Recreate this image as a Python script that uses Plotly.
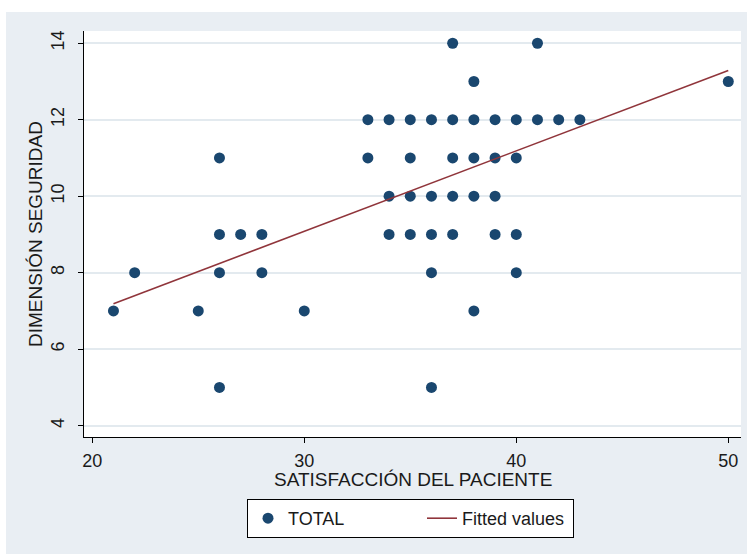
import plotly.graph_objects as go

# Patient satisfaction score vs. safety dimension score
sat = [37, 41,
       38, 50,
       33, 34, 35, 36, 37, 38, 39, 40, 41, 42, 43,
       26, 33, 35, 37, 38, 39, 40,
       34, 35, 36, 37, 38, 39,
       26, 27, 28, 34, 35, 36, 37, 39, 40,
       22, 26, 28, 36, 40,
       21, 25, 30, 38,
       26, 36]
seg = [14, 14,
       13, 13,
       12, 12, 12, 12, 12, 12, 12, 12, 12, 12, 12,
       11, 11, 11, 11, 11, 11, 11,
       10, 10, 10, 10, 10, 10,
       9, 9, 9, 9, 9, 9, 9, 9, 9,
       8, 8, 8, 8, 8,
       7, 7, 7, 7,
       5, 5]

# Linear fit endpoints (fitted values)
fit_x = [21, 50]
fit_y = [7.19, 13.29]

x_ticks = [20, 30, 40, 50]
y_ticks = [4, 6, 8, 10, 12, 14]

NAVY = "#1a476f"
MAROON = "#90353b"
BG = "#e9eef3"
GRID = "#e3eaef"
FONT = "Liberation Sans, Arial, sans-serif"
TXT = "#1a1a1a"

fig = go.Figure()
fig.add_trace(go.Scatter(
    x=sat, y=seg, mode="markers", name="TOTAL",
    marker=dict(color=NAVY, size=11, line=dict(width=0)),
    legendwidth=129,
))
fig.add_trace(go.Scatter(
    x=fit_x, y=fit_y, mode="lines", name="Fitted values",
    line=dict(color=MAROON, width=1.6),
    legendwidth=106,
))

W, H = 747, 554
L, R, T, B = 84, 6, 31, 117
PW, PH = W - L - R, H - T - B

fig.update_layout(
    width=W, height=H,
    margin=dict(l=L, r=R, t=T, b=B, pad=0),
    paper_bgcolor=BG,
    plot_bgcolor="white",
    font=dict(family=FONT, size=18, color=TXT),
    showlegend=True,
    legend=dict(
        orientation="h",
        x=(410.5 - L) / PW, xanchor="center",
        y=-(499 - (H - B)) / PH, yanchor="top",
        bgcolor="white", bordercolor="black", borderwidth=1,
        font=dict(size=18, family=FONT, color=TXT),
        itemwidth=30,
    ),
    xaxis=dict(
        range=[19.61, 50.6],
        tickvals=x_ticks,
        showgrid=False, zeroline=False,
        showline=True, linecolor="black", linewidth=1.2,
        ticks="outside", ticklen=5, tickcolor="black", tickwidth=1.2,
        tickfont=dict(size=18),
        ticklabelstandoff=2,
    ),
    yaxis=dict(
        range=[3.705, 14.32],
        tickvals=y_ticks,
        tickangle=-90,
        showgrid=True, gridcolor=GRID, gridwidth=1.5,
        zeroline=False,
        showline=True, linecolor="black", linewidth=1.2,
        ticks="outside", ticklen=5, tickcolor="black", tickwidth=1.2,
        tickfont=dict(size=18),
        ticklabelstandoff=7,
        title=dict(text="DIMENSIÓN SEGURIDAD", font=dict(size=19), standoff=0),
    ),
)

# x-axis title, placed just below the tick labels
fig.add_annotation(
    text="SATISFACCIÓN DEL PACIENTE",
    xref="paper", yref="paper",
    x=0.5, y=-(479 - (H - B)) / PH,
    xanchor="center", yanchor="middle",
    showarrow=False, font=dict(size=19, family=FONT, color=TXT),
)

# White strips framing the grey graph region (top and left edges)
fig.add_shape(type="rect", xref="paper", yref="paper",
              x0=-L / PW - 0.1, x1=1.2,
              y0=1 + (T - 12) / PH, y1=1.5,
              fillcolor="white", line=dict(width=0), layer="below")
fig.add_shape(type="rect", xref="paper", yref="paper",
              x0=-L / PW - 0.1, x1=-(L - 6) / PW,
              y0=-0.5, y1=1.5,
              fillcolor="white", line=dict(width=0), layer="below")

fig.write_html("out.html")
